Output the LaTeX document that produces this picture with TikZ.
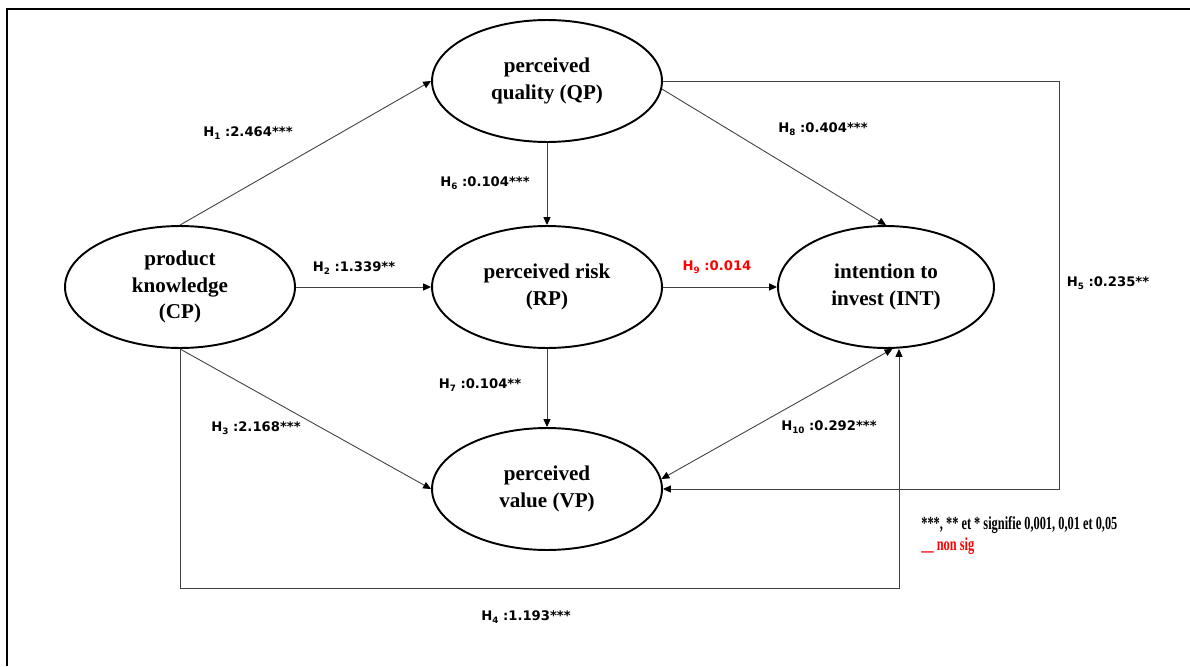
\documentclass[tikz,border=0pt]{standalone}
\usepackage{fontspec}
\setmainfont{Liberation Serif}
\newfontfamily\lblfont{DejaVu Sans}
\usetikzlibrary{shapes.geometric,arrows.meta}
\newcommand\Hs[1]{H\raisebox{-0.35ex}{\fontsize{5}{5}\selectfont #1}}
\tikzset{
  latent/.style={ellipse, draw, line width=1.1pt, inner sep=0pt,
    minimum width=4.6cm, minimum height=2.44cm, align=center,
    font=\fontsize{12}{15}\selectfont\bfseries},
  conn/.style={draw=black!75, line width=0.5pt,
    -{Triangle[length=4.5pt,width=4pt,color=black]}},
  biconn/.style={draw=black!75, line width=0.5pt,
    {Triangle[length=4.5pt,width=4pt,color=black]}-{Triangle[length=4.5pt,width=4pt,color=black]}},
  hlab/.style={font=\lblfont\bfseries\fontsize{7.5}{9}\selectfont, inner sep=0pt},
  legend/.style={anchor=west, inner sep=0pt, font=\bfseries\fontsize{10.5}{12}\selectfont},
}
\begin{document}
\begin{tikzpicture}[x=0.02cm,y=-0.02cm]
\useasboundingbox (0,0) rectangle (1190,666);
\fill[white] (0,0) rectangle (1190,666);
\draw[line width=1.4pt] (7,666) -- (7,9) -- (1190,9);

\node[latent] (QP) at (547,81) {perceived\\quality (QP)};
\node[latent] (CP) at (180,287) {product\\knowledge\\(CP)};
\node[latent] (RP) at (547,287) {perceived risk\\(RP)};
\node[latent, minimum width=4.32cm] (INT) at (886,287) {intention to\\invest (INT)};
\node[latent] (VP) at (547,489) {perceived\\value (VP)};

\coordinate (h4) at (899,588);
\coordinate (h5a) at (1059,81);
\coordinate (h5b) at (1059,489);

\draw[conn] (CP.north) -- (QP.west);
\draw[conn] (CP.east) -- (RP.west);
\draw[conn] (CP.south) -- (VP.west);
\draw[conn] (CP.south) |- (h4) -- (h4 |- INT.south);
\draw[conn] (QP.south) -- (RP.north);
\draw[conn] (RP.south) -- (VP.north);
\draw[conn] (QP.-4) -- (INT.north);
\draw[conn] (RP.east) -- (INT.west);
\draw[conn] (QP.east) -- (h5a) -- (h5b) -- (VP.east);
\draw[biconn] (VP.5) -- (INT.-84);

\node[hlab] (l1) at (248,133) {\Hs{1} :2.464***};
\node[hlab] (l6) at (485,183) {\Hs{6} :0.104***};
\node[hlab] (l2) at (354,268) {\Hs{2} :1.339**};
\node[hlab] (l7) at (480,385) {\Hs{7} :0.104**};
\node[hlab] (l3) at (256,428) {\Hs{3} :2.168***};
\node[hlab] (l4) at (526,617) {\Hs{4} :1.193***};
\node[hlab] (l8) at (823,129) {\Hs{8} :0.404***};
\node[hlab, text=red] (l9) at (717,267) {\Hs{9} :0.014};
\node[hlab] (l10) at (829,427) {\Hs{10} :0.292***};
\node[hlab] (l5) at (1108,283) {\Hs{5} :0.235**};

\node[legend] (leg1) at (921,525) {\scalebox{0.67}[1]{***, ** et * signifie 0,001, 0,01 et 0,05}};
\node[legend, text=red] (leg2) at (921,546) {\scalebox{0.67}[1]{\_\_ non sig}};
\end{tikzpicture}
\end{document}
